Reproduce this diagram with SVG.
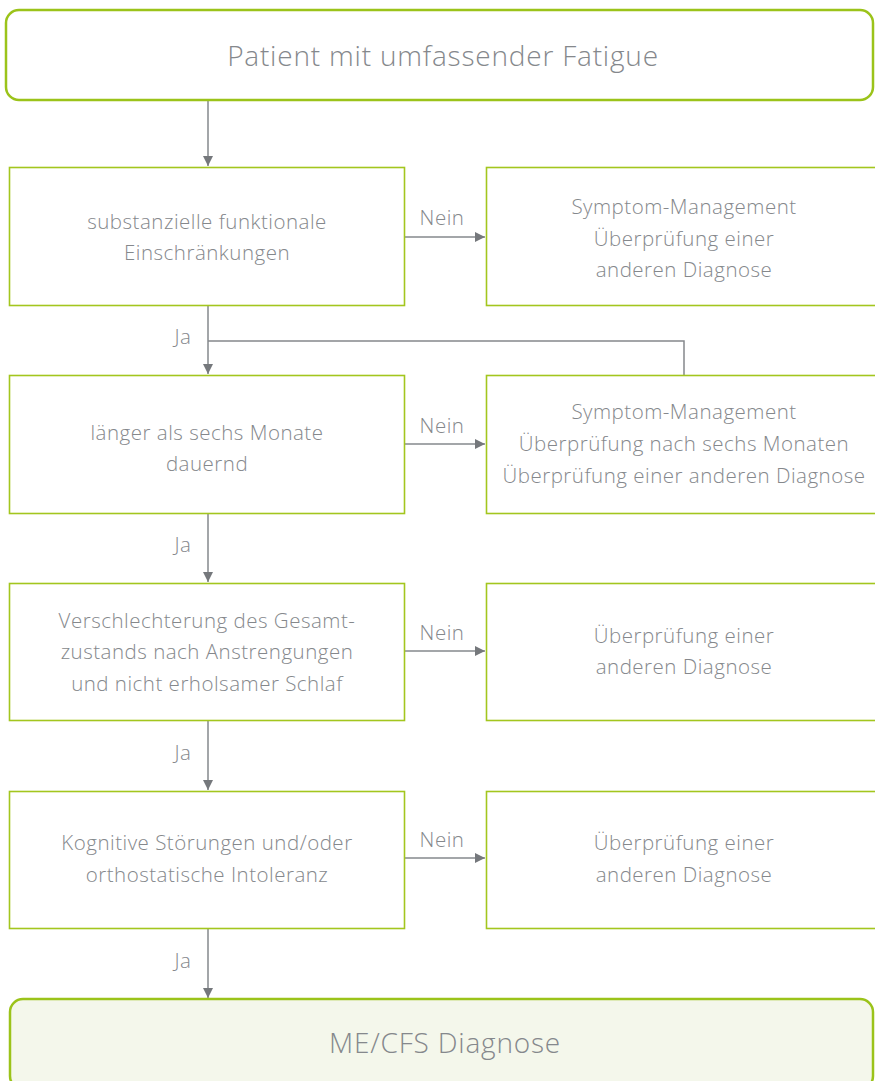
<svg xmlns="http://www.w3.org/2000/svg" width="875" height="1081" viewBox="0 0 875 1081">
<defs>
<style>
.box{fill:#ffffff;stroke:#a3c61e;stroke-width:1.6}
.term{fill:#ffffff;stroke:#9bc31a;stroke-width:2.5}
.final{fill:#f4f7eb;stroke:#9bc31a;stroke-width:2.5}
.t{font-family:"Open Sans","Liberation Sans",sans-serif;font-weight:300;font-size:20.5px;letter-spacing:0.5px;fill:#85888c;text-anchor:middle}
.big{font-size:28px;letter-spacing:0.8px}
.lbl{font-family:"Open Sans","Liberation Sans",sans-serif;font-weight:300;font-size:20.5px;letter-spacing:0.5px;fill:#85888c;text-anchor:middle}
.c{fill:none;stroke:#85888c;stroke-width:1.5}
</style>
<marker id="ah" viewBox="0 0 10 10" refX="10" refY="5" markerWidth="10" markerHeight="10" markerUnits="userSpaceOnUse" orient="auto">
<path d="M0,0 L10,5 L0,10 Z" fill="#75787c"/>
</marker>
</defs>
<rect width="875" height="1081" fill="#ffffff"/>
<g id="connectors">
<line class="c" x1="208" y1="100" x2="208" y2="166" marker-end="url(#ah)"/>
<line class="c" x1="404" y1="237" x2="485" y2="237" marker-end="url(#ah)"/>
<line class="c" x1="208" y1="306" x2="208" y2="374" marker-end="url(#ah)"/>
<polyline class="c" points="208,341 684,341 684,375"/>
<line class="c" x1="404" y1="444" x2="485" y2="444" marker-end="url(#ah)"/>
<line class="c" x1="208" y1="514" x2="208" y2="582" marker-end="url(#ah)"/>
<line class="c" x1="404" y1="651" x2="485" y2="651" marker-end="url(#ah)"/>
<line class="c" x1="208" y1="721" x2="208" y2="790" marker-end="url(#ah)"/>
<line class="c" x1="404" y1="858" x2="485" y2="858" marker-end="url(#ah)"/>
<line class="c" x1="208" y1="929" x2="208" y2="998" marker-end="url(#ah)"/>
<text class="lbl" x="442" y="225">Nein</text>
<text class="lbl" x="442" y="433">Nein</text>
<text class="lbl" x="442" y="640">Nein</text>
<text class="lbl" x="442" y="847">Nein</text>
<text class="lbl" x="183" y="344">Ja</text>
<text class="lbl" x="183" y="552">Ja</text>
<text class="lbl" x="183" y="760">Ja</text>
<text class="lbl" x="183" y="968">Ja</text>
</g>
<g id="start">
<rect class="term" x="6" y="10" width="867" height="90" rx="13"/>
<text class="t big" x="443" y="66">Patient mit umfassender Fatigue</text>
</g>
<g id="q1">
<rect class="box" x="9.5" y="167.5" width="395" height="138"/>
<text class="t" x="207" y="229">substanzielle funktionale</text>
<text class="t" x="207" y="260">Einschränkungen</text>
</g>
<g id="r1">
<rect class="box" x="486.5" y="167.5" width="390" height="138"/>
<text class="t" x="684" y="214">Symptom-Management</text>
<text class="t" x="684" y="246">Überprüfung einer</text>
<text class="t" x="684" y="277">anderen Diagnose</text>
</g>
<g id="q2">
<rect class="box" x="9.5" y="375.5" width="395" height="138"/>
<text class="t" x="207" y="440">länger als sechs Monate</text>
<text class="t" x="207" y="471">dauernd</text>
</g>
<g id="r2">
<rect class="box" x="486.5" y="375.5" width="390" height="138"/>
<text class="t" x="684" y="419">Symptom-Management</text>
<text class="t" x="684" y="451">Überprüfung nach sechs Monaten</text>
<text class="t" x="684" y="483">Überprüfung einer anderen Diagnose</text>
</g>
<g id="q3">
<rect class="box" x="9.5" y="583.5" width="395" height="137"/>
<text class="t" x="207" y="628">Verschlechterung des Gesamt-</text>
<text class="t" x="207" y="659">zustands nach Anstrengungen</text>
<text class="t" x="207" y="691">und nicht erholsamer Schlaf</text>
</g>
<g id="r3">
<rect class="box" x="486.5" y="583.5" width="390" height="137"/>
<text class="t" x="684" y="643">Überprüfung einer</text>
<text class="t" x="684" y="674">anderen Diagnose</text>
</g>
<g id="q4">
<rect class="box" x="9.5" y="791.5" width="395" height="137"/>
<text class="t" x="207" y="850">Kognitive Störungen und/oder</text>
<text class="t" x="207" y="882">orthostatische Intoleranz</text>
</g>
<g id="r4">
<rect class="box" x="486.5" y="791.5" width="390" height="137"/>
<text class="t" x="684" y="850">Überprüfung einer</text>
<text class="t" x="684" y="882">anderen Diagnose</text>
</g>
<g id="end">
<rect class="final" x="10" y="999" width="863" height="90" rx="13"/>
<text class="t big" x="445" y="1053">ME/CFS Diagnose</text>
</g>
</svg>
